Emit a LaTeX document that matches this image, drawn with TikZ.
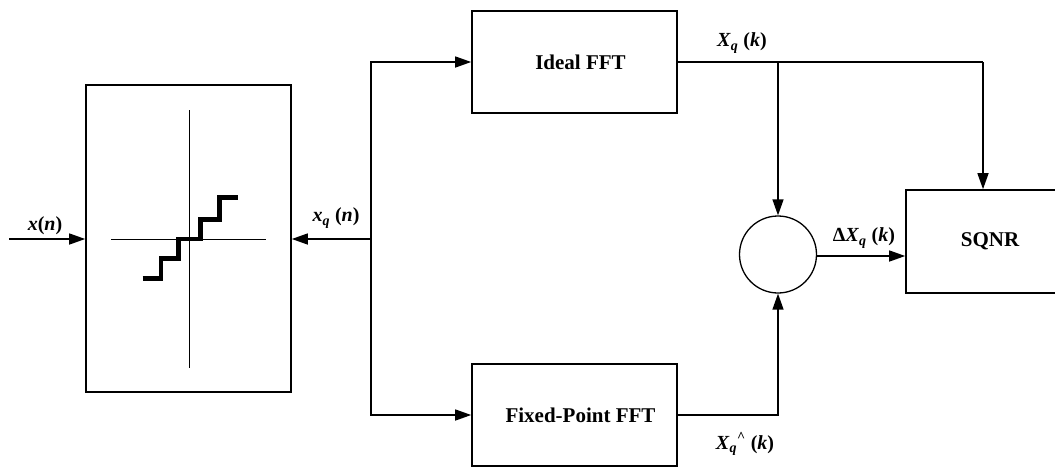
\documentclass[tikz,border=0pt]{standalone}
\usepackage{fontspec}
\setmainfont{Liberation Serif}
\usepackage{tikz}
\usetikzlibrary{arrows.meta, positioning, calc}

\begin{document}
\begin{tikzpicture}[x=1pt, y=-1pt,
        block/.style={draw, line width=1.6pt, minimum width=205pt, minimum height=102pt, inner sep=0pt, align=center, font=\fontsize{21}{25}\selectfont\bfseries},
        sumnode/.style={draw, circle, line width=1.3pt, minimum size=77pt, inner sep=0pt},
        sig/.style={font=\fontsize{20}{24}\selectfont\bfseries, inner sep=0pt},
        arr/.style={-{Triangle[length=16pt, width=11pt]}, line width=1.4pt},
        wire/.style={line width=1.4pt},
    ]
        \useasboundingbox (0,0) rectangle (1055,471);
        \node[block, minimum width=205pt, minimum height=307pt] (quant) at (188.5,238.5) {};
        \node[block] (ideal) at (574.5,62) {\hspace*{12pt}Ideal FFT};
        \node[block] (fixed) at (574.5,415) {\hspace*{12pt}Fixed-Point FFT};
        \node[block, minimum width=168pt, minimum height=103pt] (sqnr) at (990,241.5) {SQNR};
        \node[sumnode] (sum) at (778,254.5) {};
        \coordinate (xin) at (9,239);
        \coordinate (split) at (371,239);
        \coordinate (corner) at (983,62);
        
        % Quantizer characteristic
        \draw[line width=0.9pt] (111,239) -- (266,239);
        \draw[line width=0.9pt] (189,110) -- (189,368);
        \draw[line width=4.5pt] (142.7,278.3) -- (161,278.3) -- (161,258.7) -- (178.7,258.7) -- (178.7,239) -- (200.7,239) -- (200.7,219.3) -- (219.3,219.3) -- (219.3,197.7) -- (238.3,197.7);
        
        % Signal flow
        \draw[arr] (xin) -- (quant.west |- xin);
        \draw[arr] (split) -- (quant.east |- split);
        \draw[arr] (split) |- (ideal.west);
        \draw[arr] (split) |- (fixed.west);
        \draw[wire] (ideal.east) -- (corner);
        \draw[arr] (corner) -- (corner |- sqnr.north);
        \draw[arr] (ideal.east -| sum) -- (sum.north);
        \draw[arr] (fixed.east) -| (sum.south);
        \draw[arr] (sum.east |- 0,256) -- (sqnr.west |- 0,256);
        
        % Signal labels
        \node[sig] (lxn) at (45,226) {\textit{x}(\textit{n})};
        \node[sig] (lxq) at (336,218) {\textit{x}\textsubscript{\textit{q}} (\textit{n})};
        \node[sig] (lXq) at (742,43) {\textit{X}\textsubscript{\textit{q}} (\textit{k})};
        \node[sig] (lXh) at (745,444) {\textit{X}\textsubscript{\textit{q}}\textsuperscript{\^{}} (\textit{k})};
        \node[sig] (ldX) at (864,238) {Δ\textit{X}\textsubscript{\textit{q}} (\textit{k})};
    \end{tikzpicture}
\end{document}
